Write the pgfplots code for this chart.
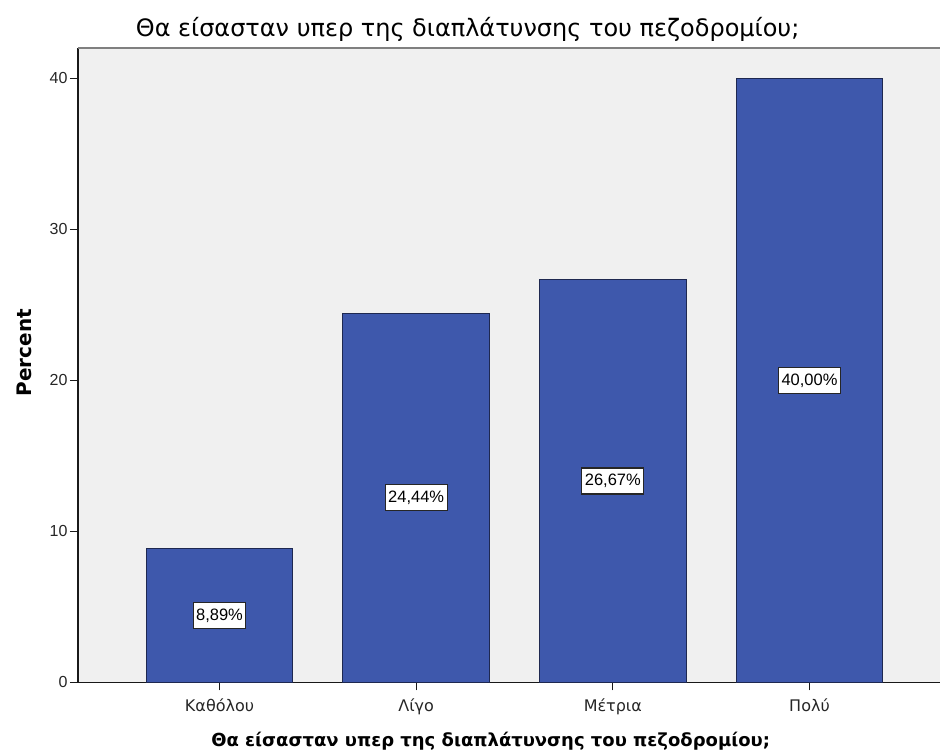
\documentclass[border=0pt]{standalone}
\usepackage{pgfplots}
\pgfplotsset{compat=1.18}
\usepackage{fontspec}
\setmainfont{DejaVu Sans}
\newfontfamily\arialf{Liberation Sans}
\definecolor{bargreek}{RGB}{62,88,172}
\definecolor{baredge}{RGB}{30,40,80}
\definecolor{plotbg}{RGB}{240,240,240}
\begin{document}
\begin{tikzpicture}[x=1bp,y=1bp]
\begin{axis}[
  at={(78bp,71bp)}, anchor=south west,
  scale only axis, width=863bp, height=635bp,
  xmin=-0.72, xmax=3.665, ymin=0, ymax=42,
  axis background/.style={fill=plotbg},
  axis x line*=bottom, axis y line*=left,
  axis line style={black!90, line width=1.3bp},
  every outer x axis line/.append style={-}, every outer y axis line/.append style={-},
  xtick={0,1,2,3},
  xticklabels={Καθόλου,Λίγο,Μέτρια,Πολύ},
  ytick={0,10,20,30,40},
  tick style={black!90, line width=1.3bp},
  tick align=outside, major tick length=8bp,
  /pgf/number format/assume math mode=true,
  yticklabel style={font=\arialf\fontsize{16bp}{18bp}\selectfont, text=black!85, xshift=1bp},
  xticklabel style={font=\fontsize{16bp}{18bp}\selectfont, text=black!85, yshift=-5bp},
  clip=false,
]
\addplot[ybar, bar width=0.745, fill=bargreek, draw=baredge, line width=0.9bp]
  coordinates {(0,8.89) (1,24.44) (2,26.67) (3,40.00)};
\addplot[draw=none, mark=none, point meta=explicit symbolic,
  nodes near coords,
  every node near coord/.style={anchor=center, fill=white, draw=black!85, line width=1.1bp,
    inner xsep=3bp, inner ysep=0bp, minimum height=26bp, font=\arialf\fontsize{16.5bp}{18bp}\selectfont, text=black}]
  coordinates {(0,4.445)[8,89\%] (1,12.22)[24,44\%] (2,13.335)[26,67\%] (3,20.00)[40,00\%]};
\draw[gray, line width=1.5bp] (rel axis cs:0,1) -- (rel axis cs:1,1);
\end{axis}
\node[anchor=base, font=\fontsize{24bp}{26bp}\selectfont] at (468bp,717bp) {Θα είσασταν υπερ της διαπλάτυνσης του πεζοδρομίου;};
\node[anchor=base, font=\bfseries\fontsize{18bp}{20bp}\selectfont] at (491bp,7bp) {Θα είσασταν υπερ της διαπλάτυνσης του πεζοδρομίου;};
\node[font=\bfseries\fontsize{20bp}{22bp}\selectfont, rotate=90] at (24bp,401bp) {Percent};
\useasboundingbox (0,0) rectangle (941bp,754bp);
\end{tikzpicture}
\end{document}
